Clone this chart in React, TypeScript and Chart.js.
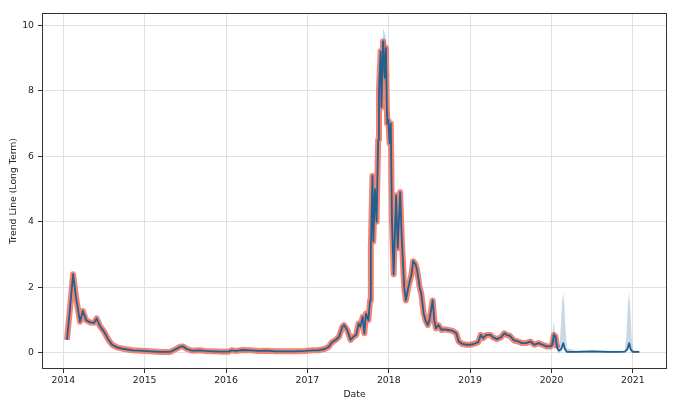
import React, { useEffect, useRef } from 'react';
import { Chart, registerables } from 'chart.js';
Chart.register(...registerables);

// Historical (actual) series: decimal year, value
const HIST_T = [
  2014.045, 2014.08, 2014.12, 2014.156, 2014.205, 2014.24, 2014.28, 2014.33, 2014.38, 2014.41,
  2014.45, 2014.50, 2014.55, 2014.60, 2014.66, 2014.75, 2014.85, 2014.94, 2015.07, 2015.19,
  2015.31, 2015.37, 2015.44, 2015.47, 2015.52, 2015.58, 2015.68, 2015.74, 2015.83, 2015.93,
  2016.03, 2016.07, 2016.12, 2016.20, 2016.30, 2016.40, 2016.50, 2016.60, 2016.73, 2016.85,
  2016.97, 2017.06, 2017.13, 2017.21, 2017.26, 2017.30, 2017.35, 2017.39, 2017.43, 2017.45,
  2017.49, 2017.53, 2017.57, 2017.60, 2017.63, 2017.65, 2017.68, 2017.70, 2017.72, 2017.75,
  2017.77, 2017.78, 2017.80, 2017.81, 2017.83, 2017.85, 2017.87, 2017.88, 2017.90, 2017.91,
  2017.93, 2017.95, 2017.965, 2017.98, 2017.995, 2018.01, 2018.025, 2018.04, 2018.06, 2018.09,
  2018.11, 2018.14, 2018.16, 2018.19, 2018.21, 2018.24, 2018.28, 2018.30, 2018.33, 2018.35,
  2018.38, 2018.40, 2018.43, 2018.45, 2018.48, 2018.50, 2018.52, 2018.54, 2018.56, 2018.58,
  2018.61, 2018.65, 2018.68, 2018.73, 2018.78, 2018.83, 2018.86, 2018.90, 2018.95, 2019.00,
  2019.05, 2019.10, 2019.13, 2019.16, 2019.20, 2019.25, 2019.28, 2019.33, 2019.38, 2019.42,
  2019.45, 2019.49, 2019.54, 2019.59, 2019.64, 2019.69, 2019.74, 2019.79, 2019.84, 2019.89,
  2019.94, 2019.99, 2020.01, 2020.03, 2020.05, 2020.07,
];
const HIST_Y = [
  0.40, 1.30, 2.40, 1.70, 0.95, 1.28, 1.00, 0.93, 0.92, 1.05,
  0.82, 0.65, 0.42, 0.25, 0.17, 0.12, 0.08, 0.07, 0.05, 0.03,
  0.03, 0.10, 0.19, 0.20, 0.12, 0.07, 0.08, 0.06, 0.05, 0.04,
  0.04, 0.08, 0.06, 0.09, 0.08, 0.06, 0.07, 0.05, 0.05, 0.05,
  0.06, 0.08, 0.08, 0.12, 0.18, 0.32, 0.40, 0.50, 0.80, 0.85,
  0.70, 0.40, 0.50, 0.55, 0.90, 0.80, 1.10, 0.60, 1.20, 1.00,
  1.60, 3.20, 5.40, 3.40, 5.00, 4.00, 6.50, 8.00, 9.20, 7.50,
  9.50, 8.40, 9.30, 7.00, 7.10, 6.40, 7.00, 4.00, 2.40, 4.80,
  3.20, 4.90, 3.50, 2.00, 1.60, 2.00, 2.40, 2.80, 2.70, 2.50,
  2.00, 1.80, 1.20, 1.00, 0.85, 1.00, 1.30, 1.60, 1.00, 0.75,
  0.85, 0.70, 0.72, 0.70, 0.68, 0.60, 0.35, 0.28, 0.25, 0.25,
  0.28, 0.33, 0.55, 0.45, 0.55, 0.55, 0.48, 0.42, 0.48, 0.60,
  0.55, 0.52, 0.38, 0.35, 0.30, 0.30, 0.35, 0.25, 0.30, 0.25,
  0.20, 0.20, 0.25, 0.55, 0.50, 0.15,
];

// Forecast continuation of the trend line
const FC_T = [2020.09, 2020.12, 2020.145, 2020.165, 2020.19, 2020.30, 2020.40, 2020.50, 2020.60, 2020.70, 2020.80, 2020.90, 2020.93, 2020.955, 2020.975, 2021.00, 2021.08];
const FC_Y = [0.07, 0.12, 0.30, 0.12, 0.03, 0.03, 0.04, 0.05, 0.04, 0.03, 0.03, 0.04, 0.10, 0.30, 0.10, 0.03, 0.03];

// Uncertainty band (null = gap)
const BAND_T = [
  2017.78, 2017.80, 2017.81, 2017.83, 2017.85, 2017.87, 2017.88, 2017.90, 2017.91, 2017.93,
  2017.945, 2017.96, 2017.975, 2017.99, 2018.01, 2018.04, 2018.06, 2018.09, 2018.11, 2018.14, 2018.16,
  2019.0,
  2019.98, 2020.01, 2020.025, 2020.045, 2020.07, 2020.10, 2020.115, 2020.13, 2020.145, 2020.16, 2020.175, 2020.19,
  2020.30, 2020.50, 2020.70, 2020.90, 2020.92, 2020.94, 2020.955, 2020.97, 2020.985, 2021.00, 2021.08,
];
const BAND_HI = [
  3.3, 5.7, 3.6, 5.1, 4.1, 6.7, 8.2, 9.6, 7.7, 9.9,
  9.8, 9.7, 9.4, 7.3, 7.4, 4.2, 2.5, 5.0, 3.3, 5.2, 3.6,
  null,
  0.25, 0.50, 0.95, 0.60, 0.25, 0.25, 0.80, 1.55, 1.83, 1.40, 0.60, 0.15,
  0.07, 0.08, 0.07, 0.07, 0.50, 1.50, 1.85, 1.30, 0.50, 0.08, 0.07,
];
const BAND_LO = [
  3.1, 5.1, 3.2, 4.9, 3.9, 6.3, 7.8, 8.9, 7.3, 9.2,
  8.0, 8.6, 8.9, 6.8, 7.0, 3.8, 2.3, 4.6, 3.1, 4.7, 3.4,
  null,
  0.15, 0.20, 0.30, 0.30, 0.05, 0.00, 0.03, 0.08, 0.15, 0.08, 0.03, 0.00,
  0.00, 0.00, 0.00, 0.00, 0.03, 0.08, 0.15, 0.08, 0.03, 0.00, 0.00,
];

const X_TICKS = [2014, 2015, 2016, 2017, 2018, 2019, 2020, 2021];
const Y_TICKS = [0, 2, 4, 6, 8, 10];
const X_MIN = 2013.738;
const X_MAX = 2021.42;
const Y_MIN = -0.49;
const Y_MAX = 10.37;

const FONT = { family: "'DejaVu Sans', sans-serif", size: 9.3 };
const TEXT = '#222';

const framePlugin = {
  id: 'frame',
  afterDatasetsDraw(chart: any) {
    const { ctx, chartArea } = chart;
    const { left, top, right, bottom } = chartArea;
    ctx.save();
    ctx.strokeStyle = '#333';
    ctx.lineWidth = 1;
    ctx.strokeRect(Math.round(left) + 0.5, Math.round(top) + 0.5, Math.round(right - left) - 1, Math.round(bottom - top) - 1);
    ctx.restore();
  },
};

export default function App() {
  const ref = useRef<HTMLCanvasElement>(null);
  useEffect(() => {
    document.body.style.margin = '0';
    const hist = HIST_T.map((t, i) => ({ x: t, y: HIST_Y[i] }));
    const fc = FC_T.map((t, i) => ({ x: t, y: FC_Y[i] }));
    const hi = BAND_T.map((t, i) => ({ x: t, y: BAND_HI[i] }));
    const lo = BAND_T.map((t, i) => ({ x: t, y: BAND_LO[i] }));
    const chart = new Chart(ref.current as HTMLCanvasElement, {
      type: 'line',
      data: {
        datasets: [
          {
            label: 'trend',
            data: [...hist, ...fc],
            borderColor: '#1f6190',
            borderWidth: 1.8,
            pointRadius: 0,
            tension: 0,
            fill: false,
            borderJoinStyle: 'round',
            order: 0,
          },
          {
            label: 'upper',
            data: hi,
            borderWidth: 0,
            pointRadius: 0,
            tension: 0,
            backgroundColor: 'rgba(40,100,150,0.25)',
            borderColor: 'rgba(0,0,0,0)',
            fill: '+1',
            spanGaps: false,
            order: 1,
          },
          {
            label: 'lower',
            data: lo,
            borderWidth: 0,
            pointRadius: 0,
            tension: 0,
            borderColor: 'rgba(0,0,0,0)',
            fill: false,
            spanGaps: false,
            order: 1,
          },
          {
            label: 'actual',
            data: hist,
            borderColor: 'rgba(244,118,98,0.9)',
            borderWidth: 6,
            pointRadius: 0,
            tension: 0,
            fill: false,
            borderJoinStyle: 'round',
            order: 2,
          },
        ],
      },
      options: {
        animation: false,
        responsive: false,
        devicePixelRatio: 1,
        parsing: false as any,
        normalized: true,
        layout: { padding: { top: 13, right: 13, left: 0, bottom: 0 } },
        plugins: { legend: { display: false }, tooltip: { enabled: false } },
        scales: {
          x: {
            type: 'linear',
            min: X_MIN,
            max: X_MAX,
            afterBuildTicks: (s: any) => {
              s.ticks = X_TICKS.map((v) => ({ value: v }));
            },
            afterFit: (s: any) => {
              s.height = 40;
            },
            ticks: {
              callback: (v: any) => String(v),
              font: FONT,
              color: TEXT,
              padding: 2,
              maxRotation: 0,
              autoSkip: false,
            },
            grid: { color: '#e0e0e0', tickColor: '#333', tickLength: 4, lineWidth: 1 },
            border: { display: false },
            title: { display: true, text: 'Date', font: FONT, color: TEXT, padding: { top: 0, bottom: 9 } },
          },
          y: {
            type: 'linear',
            min: Y_MIN,
            max: Y_MAX,
            afterBuildTicks: (s: any) => {
              s.ticks = Y_TICKS.map((v) => ({ value: v }));
            },
            afterFit: (s: any) => {
              s.width = 42;
            },
            ticks: { font: FONT, color: TEXT, padding: 4, callback: (v: any) => String(v) },
            grid: { color: '#e0e0e0', tickColor: '#333', tickLength: 4, lineWidth: 1 },
            border: { display: false },
            title: { display: true, text: 'Trend Line (Long Term)', font: FONT, color: TEXT, padding: { top: 8, bottom: 0 } },
          },
        },
      },
      plugins: [framePlugin],
    } as any);
    return () => chart.destroy();
  }, []);
  return <canvas ref={ref} width={680} height={409} style={{ display: 'block' }} />;
}
